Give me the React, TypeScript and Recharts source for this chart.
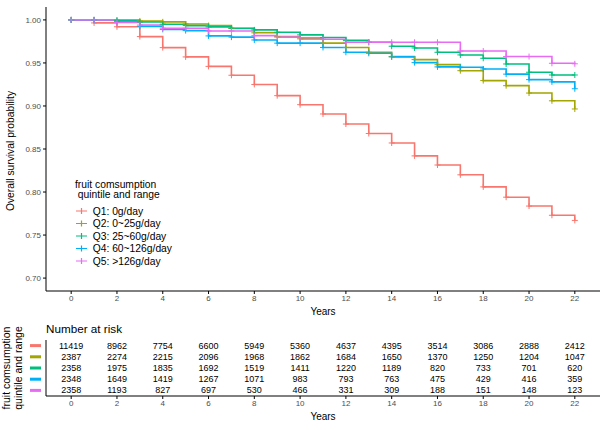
import React from 'react';
import { LineChart, Line, XAxis, YAxis, Legend, ScatterChart, Scatter } from 'recharts';

const FONT = 'Liberation Sans, Arial, Helvetica, sans-serif';

const years = [0, 1, 2, 3, 4, 5, 6, 7, 8, 9, 10, 11, 12, 13, 14, 15, 16, 17, 18, 19, 20, 21, 22];
const q1Surv = [1.0, 0.9965, 0.992, 0.9806, 0.9678, 0.957, 0.946, 0.9357, 0.925, 0.912, 0.9015, 0.8907, 0.879, 0.868, 0.857, 0.842, 0.8314, 0.82, 0.806, 0.794, 0.7837, 0.773, 0.767];
const q2Surv = [1.0, 1.0, 0.9995, 0.9988, 0.9977, 0.9953, 0.9934, 0.99, 0.985, 0.9806, 0.978, 0.973, 0.968, 0.9624, 0.9574, 0.9539, 0.948, 0.941, 0.9295, 0.9236, 0.915, 0.906, 0.8965];
const q3Surv = [1.0, 1.0, 0.9995, 0.9975, 0.995, 0.9934, 0.9919, 0.9903, 0.9884, 0.9857, 0.9826, 0.9795, 0.9762, 0.974, 0.9694, 0.9674, 0.9624, 0.9593, 0.9554, 0.9488, 0.9392, 0.936, 0.936];
const q4Surv = [1.0, 1.0, 0.998, 0.9925, 0.989, 0.9876, 0.9814, 0.98, 0.9767, 0.973, 0.973, 0.968, 0.9624, 0.9612, 0.957, 0.9504, 0.9454, 0.945, 0.943, 0.937, 0.9306, 0.928, 0.92];
const q5Surv = [1.0, 1.0, 0.997, 0.994, 0.9903, 0.9903, 0.9872, 0.9872, 0.9817, 0.98, 0.9793, 0.9775, 0.974, 0.974, 0.974, 0.974, 0.974, 0.9638, 0.9638, 0.9574, 0.9574, 0.9496, 0.949];

const seriesKeys = ['q1', 'q2', 'q3', 'q4', 'q5'];
const seriesNames = ['Q1: 0g/day', 'Q2: 0~25g/day', 'Q3: 25~60g/day', 'Q4: 60~126g/day', 'Q5: >126g/day'];
const colors = ['#F8766D', '#A3A500', '#00BF7D', '#00B0F6', '#E76BF3'];

const xTicks = [0, 2, 4, 6, 8, 10, 12, 14, 16, 18, 20, 22];
const yTicks = [0.7, 0.75, 0.8, 0.85, 0.9, 0.95, 1.0];

const riskYears = [0, 2, 4, 6, 8, 10, 12, 14, 16, 18, 20, 22];
const riskQ1 = [11419, 8962, 7754, 6600, 5949, 5360, 4637, 4395, 3514, 3086, 2888, 2412];
const riskQ2 = [2387, 2274, 2215, 2096, 1968, 1862, 1684, 1650, 1370, 1250, 1204, 1047];
const riskQ3 = [2358, 1975, 1835, 1692, 1519, 1411, 1220, 1189, 820, 733, 701, 620];
const riskQ4 = [2348, 1649, 1419, 1267, 1071, 983, 793, 763, 475, 429, 416, 359];
const riskQ5 = [2358, 1193, 827, 697, 530, 466, 331, 309, 188, 151, 148, 123];

const legendTitle = ['fruit comsumption', ' quintile and range'];
const tableTitle = ['fruit comsumption', 'quintile and range'];

const survSeries = [q1Surv, q2Surv, q3Surv, q4Surv, q5Surv];
const riskSeries = [riskQ1, riskQ2, riskQ3, riskQ4, riskQ5];

const survData = years.map((yr, i) => {
  const row: any = { year: yr };
  seriesKeys.forEach((k, s) => { row[k] = survSeries[s][i]; });
  return row;
});

const tickStyle = { fontSize: 8, fill: '#4d4d4d', fontFamily: FONT };

const makeDot = (color: string) => (props: any) => {
  const { cx, cy, index } = props;
  if (cx == null || cy == null) return <g key={`d${index}`} />;
  return (
    <path
      key={`d${index}`}
      d={`M${cx - 3},${cy}h6M${cx},${cy - 3}v6`}
      stroke={color}
      strokeWidth={1}
      fill="none"
    />
  );
};

const LegendContent = () => (
  <svg width={140} height={95} style={{ display: 'block' }}>
    <text x={5} y={8} fontSize={10.3} fontFamily={FONT} fill="#000" dominantBaseline="central" style={{ whiteSpace: 'pre' }}>{legendTitle[0]}</text>
    <text x={5} y={18.7} fontSize={10.3} fontFamily={FONT} fill="#000" dominantBaseline="central" style={{ whiteSpace: 'pre' }} xmlSpace="preserve">{legendTitle[1]}</text>
    {seriesNames.map((name, i) => {
      const y = 35 + i * 12.5;
      return (
        <g key={name}>
          <path d={`M6,${y}h11M11.5,${y - 3}v6`} stroke={colors[i]} strokeWidth={1.2} fill="none" />
          <text x={22.7} y={y} fontSize={10.3} fontFamily={FONT} fill="#000" dominantBaseline="central">{name}</text>
        </g>
      );
    })}
  </svg>
);

const MainYTitle = (props: any) => {
  const vb = props.viewBox || { x: 0, y: 7, width: 46, height: 284 };
  const cx = 10;
  const cy = vb.y + vb.height / 2 + 2;
  return (
    <text x={cx} y={cy} transform={`rotate(-90 ${cx} ${cy})`} textAnchor="middle" dominantBaseline="central" fontSize={10.3} fontFamily={FONT} fill="#000">
      Overall survival probability
    </text>
  );
};

const MainXTitle = (props: any) => {
  const vb = props.viewBox || { x: 46, y: 291, width: 554, height: 24 };
  return (
    <text x={vb.x + vb.width / 2} y={311} textAnchor="middle" dominantBaseline="central" fontSize={10} fontFamily={FONT} fill="#000">
      Years
    </text>
  );
};

const TableYTitle = (props: any) => {
  const vb = props.viewBox || { x: 0, y: 20, width: 46, height: 56 };
  const cy = vb.y + vb.height / 2;
  return (
    <g>
      <text x={46} y={8} fontSize={11.7} fontFamily={FONT} fill="#000" dominantBaseline="central">Number at risk</text>
      {tableTitle.map((t, i) => {
        const cx = 6 + i * 12;
        return (
          <text key={t} x={cx} y={cy} transform={`rotate(-90 ${cx} ${cy})`} textAnchor="middle" dominantBaseline="central" fontSize={10.5} fontFamily={FONT} fill="#000">
            {t}
          </text>
        );
      })}
    </g>
  );
};

const TableXTitle = (props: any) => {
  const vb = props.viewBox || { x: 46, y: 76, width: 554, height: 24 };
  return (
    <text x={vb.x + vb.width / 2} y={96} textAnchor="middle" dominantBaseline="central" fontSize={10} fontFamily={FONT} fill="#000">
      Years
    </text>
  );
};

const RowKeyTick = (props: any) => {
  const { y, payload } = props;
  const idx = Math.round(payload.value) - 1;
  return <rect x={30} y={y - 1.5} width={11} height={3} fill={colors[idx] || 'none'} />;
};

const NumberShape = (props: any) => {
  const { cx, cy, payload } = props;
  return (
    <text x={cx} y={cy} textAnchor="middle" dominantBaseline="central" fontSize={9} fontFamily={FONT} fill="#000">
      {payload.n}
    </text>
  );
};

export default function App() {
  return (
    <div style={{ position: 'absolute', left: 0, top: 0, width: 600, height: 430, background: '#fff' }}>
      <div style={{ position: 'absolute', left: 0, top: 0 }}>
        <LineChart width={600} height={320} data={survData} margin={{ top: 7, right: 0, bottom: 5, left: 0 }}>
          <XAxis
            type="number"
            dataKey="year"
            domain={[-1.1, 23.1]}
            ticks={xTicks}
            interval={0}
            allowDataOverflow
            height={24}
            stroke="#000"
            tickLine={{ stroke: '#000' }}
            tickSize={3}
            tickMargin={1}
            tick={tickStyle}
            label={MainXTitle}
          />
          <YAxis
            type="number"
            domain={[0.685, 1.015]}
            ticks={yTicks}
            interval={0}
            allowDataOverflow
            width={46}
            stroke="#000"
            tickLine={{ stroke: '#000' }}
            tickSize={3}
            tickMargin={2}
            tick={tickStyle}
            tickFormatter={(v: number) => v.toFixed(2)}
            label={MainYTitle}
          />
          {seriesKeys.map((k, i) => (
            <Line
              key={k}
              type="stepAfter"
              dataKey={k}
              name={seriesNames[i]}
              stroke={colors[i]}
              strokeWidth={1.6}
              dot={makeDot(colors[i])}
              activeDot={false}
              isAnimationActive={false}
            />
          ))}
          <Legend
            layout="vertical"
            align="center"
            verticalAlign="middle"
            content={LegendContent}
            wrapperStyle={{ left: 70, top: 176, width: 140, height: 95 }}
          />
        </LineChart>
      </div>
      <div style={{ position: 'absolute', left: 0, top: 320 }}>
        <ScatterChart width={600} height={110} margin={{ top: 20, right: 0, bottom: 10, left: 0 }}>
          <XAxis
            type="number"
            dataKey="x"
            domain={[-1.1, 23.1]}
            ticks={riskYears}
            interval={0}
            allowDataOverflow
            height={24}
            stroke="#000"
            tickLine={{ stroke: '#000' }}
            tickSize={3}
            tickMargin={1}
            tick={tickStyle}
            label={TableXTitle}
          />
          <YAxis
            type="number"
            dataKey="row"
            domain={[0.5, 5.5]}
            ticks={[1, 2, 3, 4, 5]}
            interval={0}
            reversed
            width={46}
            stroke="#000"
            tickLine={false}
            tick={RowKeyTick}
            label={TableYTitle}
          />
          {riskSeries.map((arr, s) => (
            <Scatter
              key={seriesKeys[s]}
              data={riskYears.map((yr, i) => ({ x: yr, row: s + 1, n: arr[i] }))}
              shape={NumberShape}
              isAnimationActive={false}
            />
          ))}
        </ScatterChart>
      </div>
    </div>
  );
}
